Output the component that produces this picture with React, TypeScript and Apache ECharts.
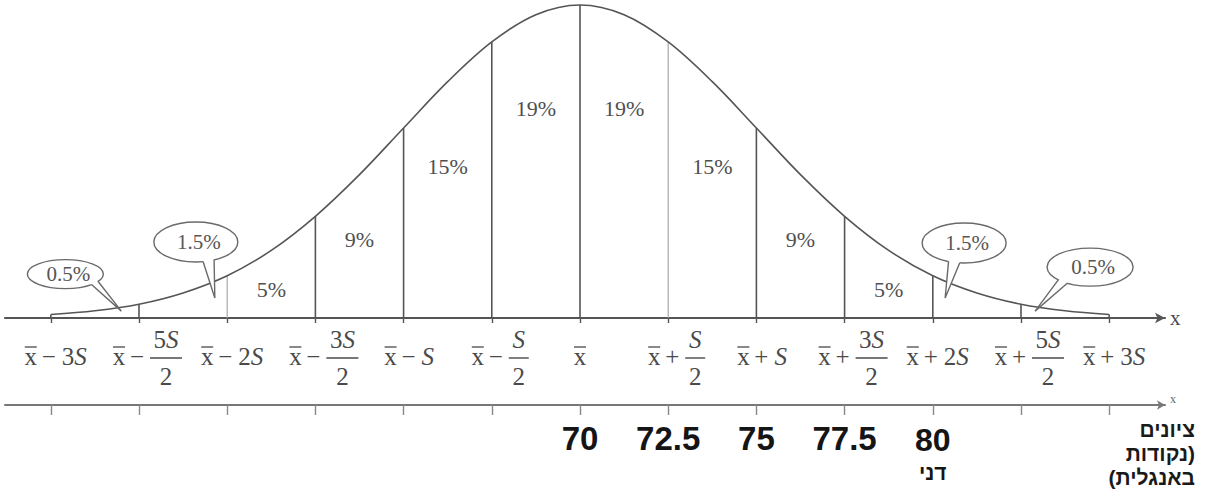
import React, { useEffect, useRef } from "react";
import * as echarts from "echarts";

// Score positions of every half standard deviation, from x̄ − 3S to x̄ + 3S (x̄ = 70, S = 5)
const tickScores = [55, 57.5, 60, 62.5, 65, 67.5, 70, 72.5, 75, 77.5, 80, 82.5, 85];

// Bell curve heights (peak = 1), sampled every quarter S
const curveScores = [
  55, 56.25, 57.5, 58.75, 60, 61.25, 62.5, 63.75, 65, 66.25, 67.5, 68.75, 70,
  71.25, 72.5, 73.75, 75, 76.25, 77.5, 78.75, 80, 81.25, 82.5, 83.75, 85,
];
const curveHeights = [
  0.011, 0.023, 0.044, 0.08, 0.135, 0.216, 0.325, 0.458, 0.607, 0.755, 0.882, 0.969, 1,
  0.969, 0.882, 0.755, 0.607, 0.458, 0.325, 0.216, 0.135, 0.08, 0.044, 0.023, 0.011,
];

// Share of the class inside each half-S band between x̄ − 2S and x̄ + 2S
const bandStarts = [60, 62.5, 65, 67.5, 70, 72.5, 75, 77.5];
const bandShares = ["5%", "9%", "15%", "19%", "19%", "15%", "9%", "5%"];

// Shares in the tails, shown in speech bubbles pointing at the curve
const tailScores = [57.0, 59.65, 80.35, 82.9];
const tailHeights = [0.022, 0.064, 0.064, 0.022];
const tailShares = ["0.5%", "1.5%", "1.5%", "0.5%"];

// Symbolic labels of the first axis: x̄ <sign> <term>/<denominator>
const labelSigns = ["−", "−", "−", "−", "−", "−", "", "+", "+", "+", "+", "+", "+"];
const labelTerms = ["3S", "5S", "2S", "3S", "S", "S", "", "S", "S", "3S", "2S", "5S", "3S"];
const labelDenoms = ["", "2", "", "2", "", "2", "", "2", "", "2", "", "2", ""];

// Score labels of the second axis
const scoreLabels = [70, 72.5, 75, 77.5, 80];
const studentScore = 80;
const studentName = "דני";
// lines of the axis title, written in the order that gives the printed bracket placement
const scoreAxisTitle = ["ציונים", "נקודות)", "(באנגלית"];

// ---- layout & style ----
const X_MIN = 53.702;
const X_MAX = 86.582;
const Y_MAX = 1.016;
const bandLabelHeights = [0.09, 0.25, 0.485, 0.668, 0.668, 0.485, 0.25, 0.09];
const bubbleLayout = [
  { dx: -56, dy: -37, rx: 38, ry: 14.5, angle: 38 },
  { dx: -19, dy: -56, rx: 42, ry: 20, angle: 72 },
  { dx: 19, dy: -55, rx: 42, ry: 20, angle: 104 },
  { dx: 55, dy: -44, rx: 43, ry: 19, angle: 130 },
];
const lightDividers = [60, 72.5];
const SERIF = '"Liberation Serif", "Times New Roman", serif';
const NARROW = '"Liberation Sans Narrow", "Liberation Sans", Arial, sans-serif';
const SANS = '"Liberation Sans", Arial, "DejaVu Sans", sans-serif';
const INK = "#4a4a4a";

const heightAt = (s: number) => curveHeights[curveScores.indexOf(s)];

function mathTerm(term: string) {
  // digits upright, S in italics
  const m = term.match(/^(\d*)(S)$/);
  if (!m) return term;
  return (m[1] ? `{d|${m[1]}}` : "") + `{s|S}`;
}

export default function App() {
  const ref = useRef<HTMLDivElement>(null);

  useEffect(() => {
    if (!ref.current) return;
    const chart = echarts.init(ref.current, undefined, { renderer: "svg" });

    const termRich = {
      d: { fontFamily: SERIF, fontSize: 25, color: INK },
      s: { fontFamily: SERIF, fontSize: 25, fontStyle: "italic", color: INK },
    };

    const option: any = {
      animation: false,
      backgroundColor: "#ffffff",
      grid: [
        { left: 5, right: 60, top: 0, height: 318 },
        { left: 5, right: 60, top: 395, height: 10 },
      ],
      xAxis: [
        {
          type: "value",
          gridIndex: 0,
          min: X_MIN,
          max: X_MAX,
          name: "x",
          nameLocation: "end",
          nameGap: 5,
          nameTextStyle: { fontFamily: SERIF, fontSize: 21, color: INK, verticalAlign: "middle" },
          axisLine: {
            show: true,
            symbol: ["none", "arrow"],
            symbolSize: [8, 10],
            lineStyle: { color: "#555", width: 2.2 },
          },
          axisTick: { show: true, customValues: tickScores, length: 5, lineStyle: { color: "#555", width: 1.4 } },
          axisLabel: { show: false },
          splitLine: { show: false },
        },
        {
          type: "value",
          gridIndex: 1,
          min: X_MIN,
          max: X_MAX,
          position: "bottom",
          name: "x",
          nameLocation: "end",
          nameGap: 5,
          nameTextStyle: { fontFamily: SERIF, fontSize: 12, color: "#666", verticalAlign: "bottom" },
          axisLine: {
            show: true,
            symbol: ["none", "arrow"],
            symbolSize: [7, 8],
            lineStyle: { color: "#777", width: 2 },
          },
          axisTick: { show: true, customValues: tickScores, length: 10, lineStyle: { color: "#888", width: 1.4 } },
          axisLabel: {
            show: true,
            customValues: scoreLabels,
            margin: 15,
            formatter: (v: number) => (v === studentScore ? `{c|${v}}` : `{b|${v}}`),
            rich: {
              b: { fontFamily: NARROW, fontWeight: "bold", fontSize: 33, color: "#151515", lineHeight: 36 },
              c: {
                fontFamily: NARROW,
                fontWeight: "bold",
                fontSize: 32,
                color: "#151515",
                lineHeight: 34,
                padding: [6, 0, 0, 0],
              },
            },
          },
          splitLine: { show: false },
        },
      ],
      yAxis: [
        { type: "value", gridIndex: 0, min: 0, max: Y_MAX, show: false },
        { type: "value", gridIndex: 1, min: 0, max: 1, show: false },
      ],
      series: [
        {
          // vertical band borders up to the curve
          type: "custom",
          xAxisIndex: 0,
          yAxisIndex: 0,
          data: tickScores.map((s) => [s, heightAt(s)]),
          renderItem: (_p: any, api: any) => {
            const x = api.value(0);
            const a = api.coord([x, 0]);
            const b = api.coord([x, api.value(1)]);
            const light = lightDividers.includes(x);
            return {
              type: "line",
              shape: { x1: a[0], y1: a[1], x2: b[0], y2: b[1] },
              style: { stroke: light ? "#a8a8a8" : "#555", lineWidth: light ? 1.2 : 1.6 },
            };
          },
        },
        {
          type: "line",
          xAxisIndex: 0,
          yAxisIndex: 0,
          data: curveScores.map((s, i) => [s, curveHeights[i]]),
          smooth: 0.35,
          symbol: "none",
          lineStyle: { color: "#555", width: 1.6 },
          z: 3,
        },
        {
          // band shares
          type: "custom",
          xAxisIndex: 0,
          yAxisIndex: 0,
          data: bandStarts.map((s, i) => [s + 1.25, bandLabelHeights[i]]),
          renderItem: (p: any, api: any) => {
            const c = api.coord([api.value(0), api.value(1)]);
            return {
              type: "text",
              style: {
                text: bandShares[p.dataIndex],
                x: c[0],
                y: c[1],
                align: "center",
                verticalAlign: "middle",
                fontFamily: SERIF,
                fontSize: 22,
                fill: "#505050",
              },
            };
          },
        },
        {
          // tail shares in speech bubbles
          type: "custom",
          xAxisIndex: 0,
          yAxisIndex: 0,
          clip: false,
          z: 5,
          data: tailScores.map((s, i) => [s, tailHeights[i]]),
          renderItem: (p: any, api: any) => {
            const tip = api.coord([api.value(0), api.value(1)]);
            const L = bubbleLayout[p.dataIndex];
            const cx = tip[0] + L.dx;
            const cy = tip[1] + L.dy;
            const pt = (deg: number, k: number) => {
              const r = (deg * Math.PI) / 180;
              return [cx + L.rx * Math.cos(r) * k, cy + L.ry * Math.sin(r) * k];
            };
            const b1 = pt(L.angle - 8, 0.99);
            const b2 = pt(L.angle + 8, 0.99);
            return {
              type: "group",
              children: [
                {
                  type: "ellipse",
                  shape: { cx, cy, rx: L.rx, ry: L.ry },
                  style: { fill: "#fff", stroke: "#6a6a6a", lineWidth: 1.4 },
                },
                {
                  type: "polygon",
                  shape: { points: [pt(L.angle - 8, 0.8), b1, tip, b2, pt(L.angle + 8, 0.8)] },
                  style: { fill: "#fff", stroke: "none" },
                },
                {
                  type: "polyline",
                  shape: { points: [b1, tip, b2] },
                  style: { fill: "none", stroke: "#6a6a6a", lineWidth: 1.4 },
                },
                {
                  type: "text",
                  style: {
                    text: tailShares[p.dataIndex],
                    x: cx + 3,
                    y: cy,
                    align: "center",
                    verticalAlign: "middle",
                    fontFamily: SERIF,
                    fontSize: 21,
                    fill: "#555",
                  },
                },
              ],
            };
          },
        },
        {
          // symbolic labels under the first axis
          type: "custom",
          xAxisIndex: 0,
          yAxisIndex: 0,
          clip: false,
          data: tickScores.map((s) => [s, 0]),
          renderItem: (p: any, api: any) => {
            const i = p.dataIndex;
            const base = api.coord([api.value(0), 0]);
            const T = base[0];
            const Y = base[1] + 38;
            const sign = labelSigns[i];
            const term = labelTerms[i];
            const den = labelDenoms[i];
            const children: any[] = [];
            const txt = (text: string, x: number, y: number, align = "center", rich?: any) => ({
              type: "text",
              style: {
                text,
                x,
                y,
                align,
                verticalAlign: "middle",
                fontFamily: SERIF,
                fontSize: 25,
                fill: INK,
                rich,
              },
            });
            const xbar = (cxp: number) => {
              children.push(txt("x", cxp, Y));
              children.push({
                type: "line",
                shape: { x1: cxp - 6, y1: Y - 9, x2: cxp + 6, y2: Y - 9 },
                style: { stroke: INK, lineWidth: 1.3 },
              });
            };
            if (!sign) {
              xbar(T);
            } else {
              const termW = term.length === 1 ? (den ? 18 : 16) : 30;
              const total = 38 + termW;
              const L = T + 8 - total / 2;
              xbar(L + 6);
              children.push(txt(sign, L + 24, Y));
              if (den) {
                const fc = L + 38 + termW / 2;
                children.push(txt(mathTerm(term), fc, Y - 17, "center", termRich));
                children.push({
                  type: "line",
                  shape: { x1: fc - termW / 2 - 1, y1: Y + 2, x2: fc + termW / 2 + 1, y2: Y + 2 },
                  style: { stroke: INK, lineWidth: 1.4 },
                });
                children.push(txt(den, fc, Y + 20));
              } else {
                children.push(txt(mathTerm(term), L + 37, Y, "left", termRich));
              }
            }
            return { type: "group", children };
          },
        },
        {
          // name of the student under his score
          type: "custom",
          xAxisIndex: 1,
          yAxisIndex: 1,
          clip: false,
          data: [[studentScore, 0]],
          renderItem: (_p: any, api: any) => {
            const c = api.coord([api.value(0), 0]);
            return {
              type: "text",
              style: {
                text: studentName,
                x: c[0],
                y: c[1] + 67,
                align: "center",
                verticalAlign: "middle",
                fontFamily: SANS,
                fontWeight: "bold",
                fontSize: 21,
                fill: "#151515",
              },
            };
          },
        },
      ],
      graphic: [
        {
          type: "text",
          style: {
            text: scoreAxisTitle.join("\n"),
            x: 1195,
            y: 417,
            align: "right",
            verticalAlign: "top",
            fontFamily: SANS,
            fontWeight: "bold",
            fontSize: 21,
            lineHeight: 24,
            fill: "#1a1a1a",
          },
        },
      ],
    };

    chart.setOption(option);
    return () => chart.dispose();
  }, []);

  return (
    <div
      ref={ref}
      style={{ position: "fixed", left: 0, top: 0, width: 1225, height: 491, background: "#fff" }}
    />
  );
}
